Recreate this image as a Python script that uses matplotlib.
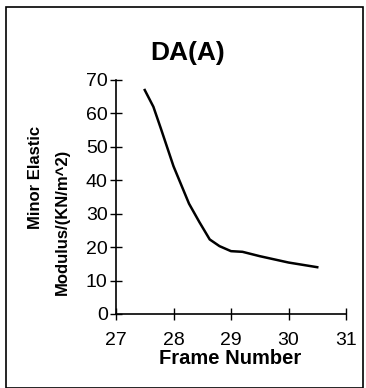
import matplotlib
matplotlib.use("Agg")
import matplotlib.pyplot as plt
from matplotlib.patches import Rectangle

frame = [27.5, 27.65, 27.78, 28.0, 28.27, 28.45, 28.63, 28.8, 29.0, 29.2, 29.5, 30.0, 30.5]
modulus = [67, 62, 55.5, 44.2, 33, 27.5, 22.3, 20.3, 18.8, 18.6, 17.3, 15.4, 14.0]

x_ticks = [27, 28, 29, 30, 31]
y_ticks = [0, 10, 20, 30, 40, 50, 60, 70]

plt.rcParams['font.family'] = ['Liberation Sans', 'DejaVu Sans']

W, H = 366, 388
fig = plt.figure(figsize=(W / 100, H / 100), dpi=100)
ax = fig.add_axes([116 / W, 1 - 314 / H, 230 / W, 234 / H])

ax.plot(frame, modulus, color='black', lw=1.8)

ax.set_xlim(27, 31)
ax.set_ylim(0, 70)
ax.set_xticks(x_ticks)
ax.set_yticks(y_ticks)
ax.tick_params(direction='inout', length=8, width=1.0, labelsize=14, pad=2)
ax.tick_params(axis='x', pad=9)
for side in ['top', 'right']:
    ax.spines[side].set_visible(False)
for side in ['left', 'bottom']:
    ax.spines[side].set_linewidth(1.2)

# title and axis labels placed like the original sheet
fig.text(188 / W, 1 - 53 / H, 'DA(A)', ha='center', va='center',
         fontsize=19, fontweight='bold')
fig.text(230 / W, 1 - 359 / H, 'Frame Number', ha='center', va='center',
         fontsize=14.5, fontweight='bold')
fig.text(35 / W, 1 - 177 / H, 'Minor Elastic', ha='center', va='center',
         rotation=90, fontsize=12, fontweight='bold')
fig.text(62 / W, 1 - 222 / H, 'Modulus/(KN/m^2)', ha='center', va='center',
         rotation=90, fontsize=12, fontweight='bold')

# outer frame
fig.patches.append(Rectangle((6 / W, 0), 357 / W, 1 - 7 / H,
                             transform=fig.transFigure, fill=False,
                             edgecolor='black', lw=1.2))

fig.savefig('out.png', dpi=100)
